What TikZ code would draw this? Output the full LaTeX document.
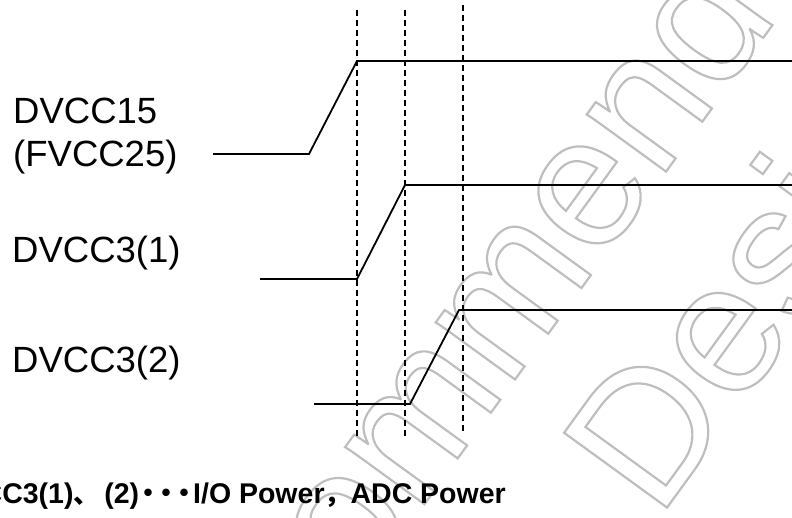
\documentclass[tikz,border=0pt]{standalone}
\usepackage{fontspec}
\setmainfont{Liberation Sans}
\newfontfamily\cjk{Noto Sans CJK JP}
\usepackage{xcolor}
\definecolor{wmgray}{RGB}{190,190,190}
% hollow letters for the watermark
\newcommand{\hollow}[1]{\special{pdf:code 1 Tr 2.2 w}#1\special{pdf:code 0 Tr}}

\begin{document}
\begin{tikzpicture}[x=1pt,y=-1pt,
  sig/.style={line width=1.8pt},
  guide/.style={line width=1.6pt, dash pattern=on 6pt off 4pt},
  lbl/.style={anchor=base west, inner sep=0pt, font=\fontsize{36.5}{40}\selectfont},
  wmark/.style={inner sep=0pt, text=wmgray, font=\fontsize{185}{185}\selectfont}]
\useasboundingbox (0,0) rectangle (792,517);
% watermark
\node[wmark, rotate=54, anchor=base west] (wmrec) at (163,864) {\hollow{Recommended}};
\node[wmark, rotate=54, anchor=base west] (wmdes) at (658,520) {\hollow{Design}};

% guide lines
\draw [guide] (357,10) -- (357,438);
\draw [guide] (405,10) -- (405,438);
\draw [guide] (463,5) -- (463,433);

% signals
\draw [sig] (213,154) -- (309,154) -- (357,61) -- (792,61);
\draw [sig] (260,279) -- (357,279) -- (405,185) -- (792,185);
\draw [sig] (314,404) -- (410,404) -- (459,310) -- (792,310);

% labels
\node[lbl] (dvcc15) at (13,123) {DVCC15};
\node[lbl] (fvcc25) at (13,166) {(FVCC25)};
\node[lbl] (dvcc31) at (12,262) {DVCC3(1)};
\node[lbl] (dvcc32) at (12,372) {DVCC3(2)};
\node[anchor=base east, inner sep=0pt, font=\bfseries\fontsize{28.5}{30}\selectfont] (note) at (506,503)
  {CC3(1){\fontsize{26}{26}\cjk 、}\,(2){\fontsize{36}{36}\cjk\raisebox{-3pt}{･･･}}I/O Power{\fontsize{26}{26}\cjk ，}ADC Power};
%\draw (0,0) rectangle (792,517);
\end{tikzpicture}
\end{document}
